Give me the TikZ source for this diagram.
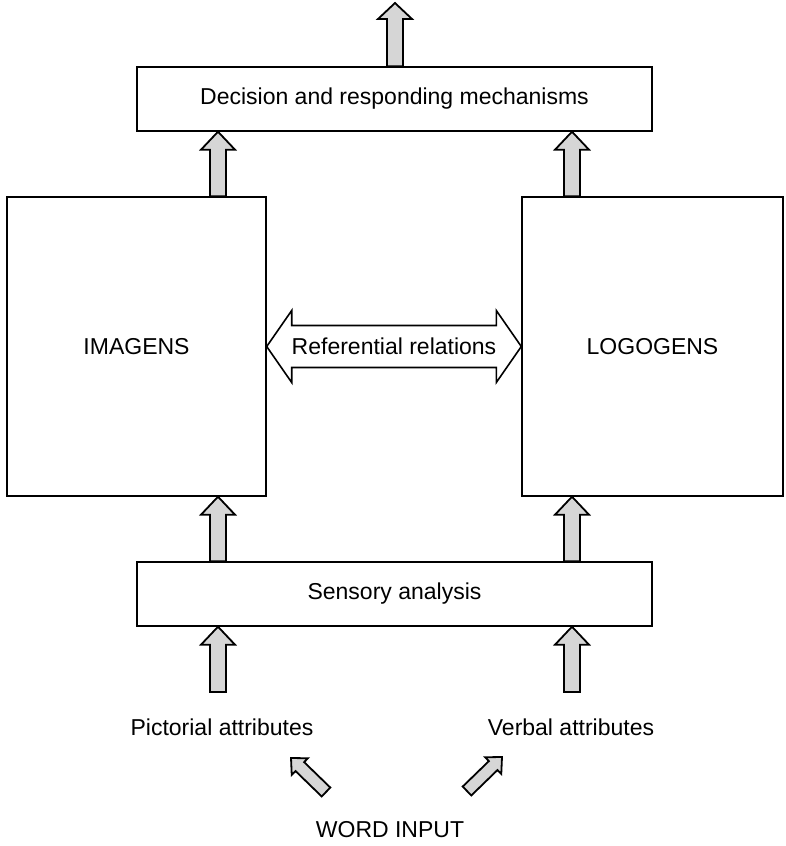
\documentclass[tikz,border=0pt]{standalone}
\usepackage{fontspec}
\setmainfont{Liberation Sans}
\usetikzlibrary{calc}
\tikzset{
  box/.style={draw, line width=1.4pt, inner sep=0pt, fill=white, font=\fontsize{23}{27}\selectfont},
  lbl/.style={inner sep=0pt, font=\fontsize{23}{27}\selectfont},
  barrow/.style={draw, line width=1.8pt, fill=black!16, line join=miter},
  dblarrow/.style={draw, line width=1.6pt, fill=white, line join=miter},
}
% block arrow: #1 start, #2 tip, #3 shaft half width, #4 head half width, #5 head length
\newcommand{\blockarrow}[5]{%
  \path (#1) coordinate (ba-s) (#2) coordinate (ba-t);
  \path ($(ba-t)!#5!(ba-s)$) coordinate (ba-h);
  \draw[barrow] ($(ba-s)!#3!90:(ba-t)$) -- ($(ba-h)!#3!-90:(ba-s)$) -- ($(ba-h)!#4!-90:(ba-s)$) -- (ba-t) -- ($(ba-h)!#4!90:(ba-s)$) -- ($(ba-h)!#3!90:(ba-s)$) -- ($(ba-s)!#3!-90:(ba-t)$) -- cycle;}
\begin{document}
\begin{tikzpicture}[x=1pt, y=-1pt]
\useasboundingbox (0,0) rectangle (785,846);
\node[box, minimum width=515pt, minimum height=64pt] (dec) at (394.5,99) {Decision and responding mechanisms};
\node[box, minimum width=259pt, minimum height=299pt] (imagens) at (136.5,346.5) {IMAGENS};
\node[box, minimum width=261pt, minimum height=299pt] (logogens) at (652.5,346.5) {LOGOGENS};
\node[box, minimum width=515pt, minimum height=64pt] (sensory) at (394.5,594) {Sensory analysis};
\node[lbl] (pict) at (222,727) {Pictorial attributes};
\node[lbl] (verbal) at (571,727) {Verbal attributes};
\node[lbl] (word) at (390,830) {WORD INPUT};

\coordinate (xl) at (218,0);
\coordinate (xr) at (572,0);
\coordinate (out) at (395,3);
\coordinate (inL) at (218,692);
\coordinate (inR) at (572,692);
\coordinate (dlS) at (326,792);
\coordinate (dlT) at (291,758);
\coordinate (drS) at (467,791);
\coordinate (drT) at (502,757);

\blockarrow{dec.north -| out}{out}{8pt}{17pt}{16pt}
\blockarrow{xl |- imagens.north}{xl |- dec.south}{8pt}{17pt}{18pt}
\blockarrow{xr |- logogens.north}{xr |- dec.south}{8pt}{17pt}{18pt}
\blockarrow{xl |- sensory.north}{xl |- imagens.south}{8pt}{17pt}{18pt}
\blockarrow{xr |- sensory.north}{xr |- logogens.south}{8pt}{17pt}{18pt}
\blockarrow{inL}{xl |- sensory.south}{8pt}{17pt}{18pt}
\blockarrow{inR}{xr |- sensory.south}{8pt}{17pt}{18pt}
\blockarrow{dlS}{dlT}{6.2pt}{11.6pt}{12.3pt}
\blockarrow{drS}{drT}{6.2pt}{11.6pt}{12.3pt}

\draw[dblarrow] (imagens.east) -- ++(25,-36) -- ++(0,15) -- ($(logogens.west)+(-25,-21)$) -- ++(0,-15) -- (logogens.west) -- ++(-25,36) -- ++(0,-15) -- ($(imagens.east)+(25,21)$) -- ++(0,15) -- cycle;
\node[lbl] (ref) at ($(imagens.east)!0.5!(logogens.west)$) {Referential relations};
\end{tikzpicture}
\end{document}
